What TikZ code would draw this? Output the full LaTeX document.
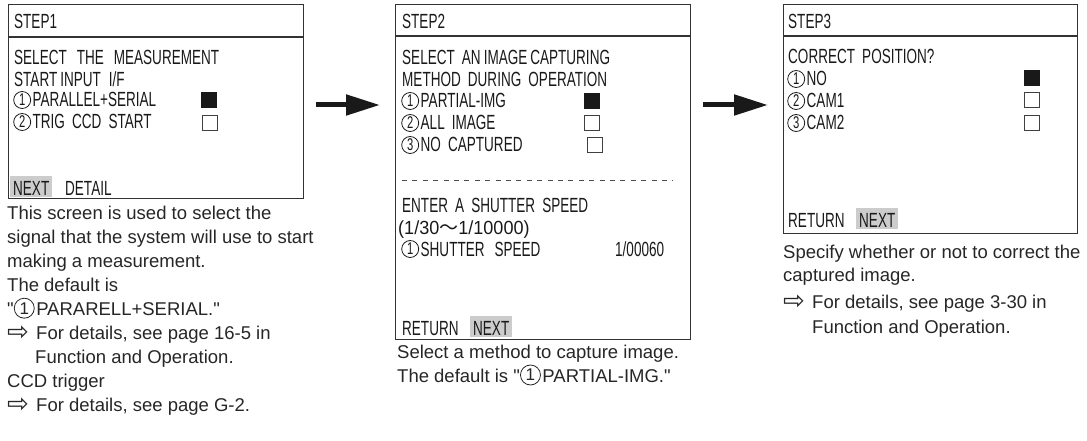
\documentclass[tikz,border=0pt]{standalone}
\usepackage{fontspec}
\setmainfont{Liberation Sans}
\newfontfamily\lcdfont[FakeStretch=0.66,WordSpace=1.9]{Liberation Sans}
\newfontfamily\lcdwidefont[FakeStretch=0.95]{Liberation Sans}
\newfontfamily\symfont{DejaVu Sans}
\newfontfamily\cjkfont{Noto Sans CJK JP}
\usetikzlibrary{arrows.meta}

% circled number: #1 radius (pt), #2 digit
\newcommand{\cnum}[2][8.5]{\tikz[baseline=0pt]{%
  \path (0pt,0pt) (2*#1pt+2.5pt,0pt);
  \draw[line width=0.8pt] (#1pt+0.5pt,7pt) circle[radius=#1pt];
  \node[anchor=center, inner sep=0pt, font=\fontsize{17}{17}\selectfont] at (#1pt+0.5pt,7pt) {#2};}}
\newcommand{\seeref}{\makebox[29pt][l]{\raisebox{-1.5pt}{\symfont\fontsize{26}{24}\selectfont ⇨}}}
\newcommand{\gap}{\hspace{10pt}}

\begin{document}
\begin{tikzpicture}[x=1pt, y=-1pt,
  screen/.style={draw=black!80, line width=1.3pt, inner sep=0pt, anchor=north west},
  lcd/.style={anchor=base west, inner sep=0pt, text=black!90, font=\lcdfont\fontsize{20.5}{21}\selectfont},
  note/.style={anchor=base west, inner sep=0pt, text=black!85, font=\fontsize{18.5}{24}\selectfont},
  hilite/.style={lcd, fill=black!20, inner xsep=3pt, inner ysep=1pt, text height=18pt, text depth=1pt},
  boxon/.style={fill=black!90, draw=black!90, inner sep=0pt, minimum size=15pt},
  boxoff/.style={draw=black!75, line width=0.8pt, inner sep=0pt, minimum size=15pt},
  bigarrow/.style={line width=5pt, black!90, -{Triangle[length=34pt, width=20pt]}}
]
  \useasboundingbox (0,0) rectangle (1087,441);

  % Screen 1
  \node[screen, minimum width=295pt, minimum height=194pt] (scr1) at (8,4) {};
  \draw[draw=black!80, line width=1.3pt] (8,37) -- (303,37);
  \node[lcd] (s1title) at (14,29) {STEP1};
  \node[lcd] (s1l1) at (14,65) {SELECT\gap THE\gap MEASUREMENT};
  \node[lcd] (s1l2) at (14,87) {START\hspace{3pt}INPUT\hspace{8pt}I/F};
  \node[lcd] (s1o1) at (13,107) {\cnum{1}PARALLEL+SERIAL};
  \node[lcd] (s1o2) at (13,129) {\cnum{2}TRIG CCD START};
  \node[boxon] (s1b1) at (209,100) {};
  \node[boxoff] (s1b2) at (209.5,122.5) {};
  \node[hilite] (s1next) at (10,195) {NEXT};
  \node[lcd] (s1detail) at (65,195) {DETAIL};

  % Screen 2
  \node[screen, minimum width=295pt, minimum height=335pt] (scr2) at (395,4) {};
  \draw[draw=black!80, line width=1.3pt] (395,36) -- (690,36);
  \node[lcd] (s2title) at (402,29) {STEP2};
  \node[lcd] (s2l1) at (402,65) {SELECT AN\hspace{3pt}IMAGE\hspace{3pt}CAPTURING};
  \node[lcd] (s2l2) at (402,87) {METHOD DURING OPERATION};
  \node[lcd] (s2o1) at (401,108) {\cnum{1}PARTIAL-IMG};
  \node[lcd] (s2o2) at (401,130) {\cnum{2}ALL IMAGE};
  \node[lcd] (s2o3) at (401,152) {\cnum{3}NO CAPTURED};
  \node[boxon] (s2b1) at (591.5,100.5) {};
  \node[boxoff] (s2b2) at (591.5,122.5) {};
  \node[boxoff] (s2b3) at (595,144.5) {};
  \draw[black!70, line width=0.8pt, dash pattern=on 5pt off 5.4pt] (402,180) -- (673,180);
  \node[lcd] (s2l3) at (402,212) {ENTER A SHUTTER SPEED};
  \node[lcd, font=\lcdwidefont\fontsize{19}{21}\selectfont] (s2l4) at (398,234)
    {(1/30{\cjkfont\fontsize{19}{21}\selectfont ～}1/10000)};
  \node[lcd] (s2o4) at (401,256) {\cnum{1}SHUTTER\gap SPEED};
  \node[lcd] (s2val) at (615,256) {1/00060};
  \node[lcd] (s2ret) at (402,335) {RETURN};
  \node[hilite] (s2next) at (470,335) {NEXT};

  % Screen 3
  \node[screen, minimum width=294pt, minimum height=229pt] (scr3) at (783,4) {};
  \draw[draw=black!80, line width=1.3pt] (783,36) -- (1077,36);
  \node[lcd] (s3title) at (788,29) {STEP3};
  \node[lcd] (s3l1) at (788,64) {CORRECT POSITION?};
  \node[lcd] (s3o1) at (787,86) {\cnum{1}NO};
  \node[lcd] (s3o2) at (787,108) {\cnum{2}CAM1};
  \node[lcd] (s3o3) at (787,130) {\cnum{3}CAM2};
  \node[boxon] (s3b1) at (1031.5,77.5) {};
  \node[boxoff] (s3b2) at (1031.5,100) {};
  \node[boxoff] (s3b3) at (1031.5,122.5) {};
  \node[lcd] (s3ret) at (788,227) {RETURN};
  \node[hilite] (s3next) at (856,227) {NEXT};

  % Arrows between screens
  \coordinate (a1from) at (316,105);
  \coordinate (a1to) at (380,105);
  \coordinate (a2from) at (703,105);
  \coordinate (a2to) at (768,105);
  \draw[bigarrow] (a1from) -- (a1to);
  \draw[bigarrow] (a2from) -- (a2to);

  % Notes under the screens
  \foreach \txt [count=\i] in {
      {This screen is used to select the},
      {signal that the system will use to start},
      {making a measurement.},
      {The default is},
      {\textquotedbl\cnum[10]{1}PARARELL+SERIAL.\textquotedbl},
      {\seeref For details, see page 16-5 in},
      {\hspace*{28pt}Function and Operation.},
      {CCD trigger},
      {\seeref For details, see page G-2.}}
    \node[note] (n1-\i) at (7,219+24.05*\i-24.05) {\txt};

  \node[note] (n2-1) at (397,358) {Select a method to capture image.};
  \node[note] (n2-2) at (397,382) {The default is \textquotedbl\cnum[10]{1}PARTIAL-IMG.\textquotedbl};

  \node[note] (n3-1) at (783,258) {Specify whether or not to correct the};
  \node[note] (n3-2) at (783,281) {captured image.};
  \node[note] (n3-3) at (783,308) {\seeref For details, see page 3-30 in};
  \node[note] (n3-4) at (783,333) {\hspace*{29pt}Function and Operation.};
\end{tikzpicture}
\end{document}
